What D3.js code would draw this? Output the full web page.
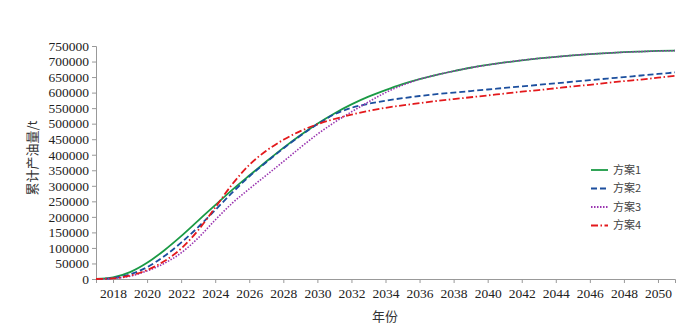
<!DOCTYPE html>
<html>
<head>
<meta charset="utf-8">
<script src="https://cdn.jsdelivr.net/npm/d3@7"></script>
<style>
    body { margin: 0; background: #fff; }
    .axis text { font-family: "Liberation Serif", "DejaVu Serif", serif; font-size: 13.5px; fill: #222; }
    .axis path, .axis line { stroke: #999; }
    .label { font-family: "Noto Sans CJK SC", sans-serif; font-size: 13px; fill: #333; }
    .legend text { font-family: "Noto Sans CJK SC", sans-serif; font-size: 11px; fill: #444; }
</style>
</head>
<body>
<div id="chart"></div>
<script>
const years = d3.range(2017, 2052);
const xTicks = d3.range(2018, 2051, 2);
const yTicks = d3.range(0, 750001, 50000);
const seriesNames = ["方案1", "方案2", "方案3", "方案4"];

// cumulative oil output, t (one value per year 2017..2051)
const plan1 = [0, 5000, 22000, 52000, 92000, 138000, 188000, 238000, 287000, 333000,
    378000, 422000, 463000, 500000, 533000, 562000, 587000, 608000, 627000, 643000,
    657000, 669000, 680000, 689000, 697000, 704000, 710000, 715000, 720000, 724000,
    727000, 730000, 732000, 734000, 735000];
const plan2 = [0, 3000, 15000, 38000, 73000, 117000, 167000, 222000, 278000, 330000,
    376000, 420000, 461000, 498000, 530000, 551000, 564000, 574000, 582000, 589000,
    595000, 600000, 605000, 610000, 615000, 620000, 625000, 630000, 635000, 640000,
    645000, 650000, 655000, 660000, 665000];
const plan3 = [0, 2000, 9000, 26000, 50000, 84000, 132000, 190000, 244000, 290000,
    334000, 378000, 423000, 466000, 504000, 538000, 570000, 600000, 624000, 643000,
    657000, 669000, 680000, 689000, 697000, 704000, 710000, 715000, 720000, 724000,
    727000, 730000, 732000, 734000, 735000];
const plan4 = [0, 2000, 11000, 29000, 57000, 98000, 157000, 230000, 305000, 367000,
    413000, 448000, 476000, 498000, 515000, 529000, 541000, 551000, 559000, 566000,
    573000, 579000, 585000, 591000, 597000, 603000, 608000, 614000, 620000, 625000,
    631000, 637000, 642000, 648000, 654000];

const colors = ["#1a9a45", "#1c4f9e", "#9a35b0", "#e3191c"];
const dashes = [null, "6,3", "1.5,1.5", "7,2.5,1.5,2.5"];
const allSeries = [plan1, plan2, plan3, plan4];

const width = 700, height = 333;
const margin = { top: 46, right: 25, bottom: 54, left: 96 };
const innerW = width - margin.left - margin.right;
const innerH = height - margin.top - margin.bottom;

const svg = d3.select("#chart").append("svg")
    .attr("width", width)
    .attr("height", height);

const g = svg.append("g")
    .attr("transform", "translate(" + margin.left + "," + margin.top + ")");

const xScale = d3.scaleLinear().domain([2017, 2051]).range([0, innerW]);
const yScale = d3.scaleLinear().domain([0, 750000]).range([innerH, 0]);

g.append("g")
    .attr("class", "axis")
    .attr("transform", "translate(0," + innerH + ")")
    .call(d3.axisBottom(xScale).tickValues(xTicks).tickFormat(d3.format("d")).tickSizeOuter(0).tickSize(4).tickPadding(5));

g.append("g")
    .attr("class", "axis")
    .call(d3.axisLeft(yScale).tickValues(yTicks).tickFormat(d3.format("d")).tickSizeOuter(0).tickSize(4).tickPadding(3));

// y-axis label
svg.append("text")
    .attr("class", "label")
    .attr("transform", "rotate(-90)")
    .attr("x", -158)
    .attr("y", 37)
    .attr("text-anchor", "middle")
    .text("累计产油量/t");

// x-axis label
svg.append("text")
    .attr("class", "label")
    .attr("x", 385)
    .attr("y", 321)
    .attr("text-anchor", "middle")
    .text("年份");

const line = d3.line()
    .x((d, i) => xScale(years[i]))
    .y(d => yScale(d))
    .curve(d3.curveMonotoneX);

allSeries.forEach((s, i) => {
    g.append("path")
        .datum(s)
        .attr("fill", "none")
        .attr("stroke", colors[i])
        .attr("stroke-width", i === 2 ? 1.6 : 1.8)
        .attr("stroke-dasharray", dashes[i])
        .attr("d", line);
});

// legend
const legend = svg.append("g").attr("class", "legend");
seriesNames.forEach((name, i) => {
    const y = 170 + i * 18.5;
    legend.append("line")
        .attr("x1", 591).attr("x2", 608)
        .attr("y1", y).attr("y2", y)
        .attr("stroke", colors[i])
        .attr("stroke-width", 1.8)
        .attr("stroke-dasharray", dashes[i]);
    legend.append("text")
        .attr("x", 613)
        .attr("y", y)
        .attr("dy", "0.35em")
        .text(name);
});
</script>
</body>
</html>
